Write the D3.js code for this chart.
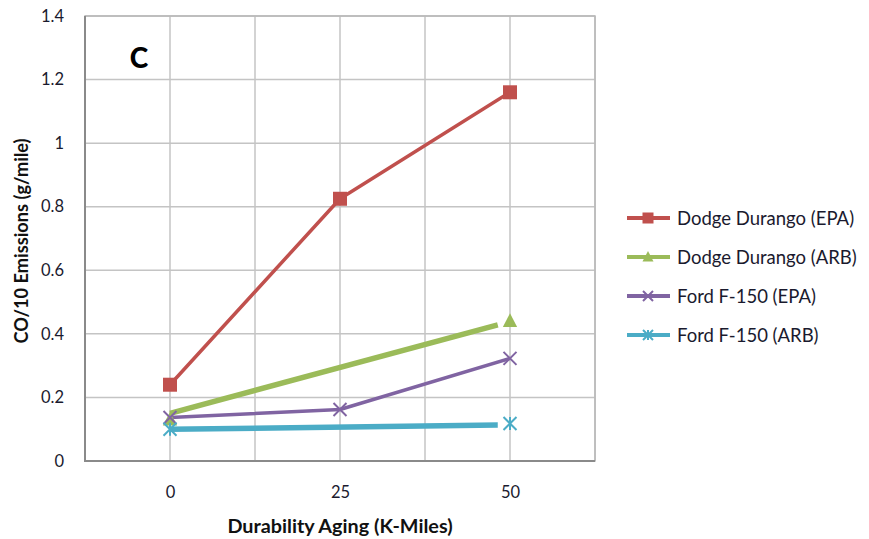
<!DOCTYPE html>
<html><head><meta charset="utf-8">
<script src="https://cdn.jsdelivr.net/npm/d3@7"></script>
<style>
html,body{margin:0;padding:0;background:#fff;}
svg{display:block;font-family:Lato,"Open Sans",sans-serif;}
</style></head>
<body><svg id="c" width="869" height="539"></svg>
<script>
const xTicks = [0, 25, 50];
const yTicks = [0, 0.2, 0.4, 0.6, 0.8, 1, 1.2, 1.4];
const seriesNames = ["Dodge Durango (EPA)", "Dodge Durango (ARB)", "Ford F-150 (EPA)", "Ford F-150 (ARB)"];
const seriesColors = ["#C0504D", "#9BBB59", "#8064A2", "#4BACC6"];
const seriesMarkers = ["square", "triangle", "x", "star"];
const seriesWidths = [3.5, 5.5, 3.5, 5.5];
// line points per series
const durangoEpaLine = [[0, 0.24], [25, 0.825], [50, 1.16]];
const durangoArbLine = [[0, 0.15], [48.2, 0.428]];
const fordEpaLine = [[0, 0.137], [25, 0.162], [50, 0.323]];
const fordArbLine = [[0, 0.10], [48.2, 0.113]];
// marker points per series
const durangoEpaMarks = [[0, 0.24], [25, 0.825], [50, 1.16]];
const durangoArbMarks = [[0, 0.13], [50, 0.44]];
const fordEpaMarks = [[0, 0.137], [25, 0.162], [50, 0.323]];
const fordArbMarks = [[0, 0.10], [50, 0.118]];
const lines = [durangoEpaLine, durangoArbLine, fordEpaLine, fordArbLine];
const marks = [durangoEpaMarks, durangoArbMarks, fordEpaMarks, fordArbMarks];
const xTitle = "Durability Aging (K-Miles)";
const yTitle = "CO/10 Emissions (g/mile)";
const panelLabel = "C";

const svg = d3.select("#c");
const L = 85, R = 595, T = 16, B = 461;
const x = d3.scaleLinear().domain([-12.5, 62.5]).range([L, R]);
const y = d3.scaleLinear().domain([0, 1.4]).range([B, T]);

// grid
const g = svg.append("g");
g.selectAll(".vg").data(d3.range(-12.5, 62.6, 12.5)).join("line")
  .attr("x1", d => x(d)).attr("x2", d => x(d)).attr("y1", T).attr("y2", B)
  .attr("stroke", "#c4c4c4").attr("stroke-width", 1.5);
g.selectAll(".hg").data(yTicks).join("line")
  .attr("x1", L).attr("x2", R).attr("y1", d => y(d)).attr("y2", d => y(d))
  .attr("stroke", "#c4c4c4").attr("stroke-width", 1.5);
g.append("rect").attr("x", L).attr("y", T).attr("width", R - L).attr("height", B - T)
  .attr("fill", "none").attr("stroke", "#b8b8b8").attr("stroke-width", 1.5);
g.append("line").attr("x1", L).attr("x2", L).attr("y1", T).attr("y2", B + 1).attr("stroke", "#8a8a8a").attr("stroke-width", 2);
g.append("line").attr("x1", L).attr("x2", R).attr("y1", B).attr("y2", B).attr("stroke", "#8a8a8a").attr("stroke-width", 2);

// axes labels via d3 axes
const ya = svg.append("g").attr("transform", `translate(${L},0)`)
  .call(d3.axisLeft(y).tickValues(yTicks).tickSize(0).tickPadding(21).tickFormat(d3.format("~g")));
ya.select(".domain").remove();
ya.selectAll("text").attr("font-size", 16.5).attr("fill", "#1a1a2e").attr("font-family", "Lato,'Open Sans',sans-serif");
const xa = svg.append("g").attr("transform", `translate(0,${B})`)
  .call(d3.axisBottom(x).tickValues(xTicks).tickSize(0).tickPadding(25));
xa.select(".domain").remove();
xa.selectAll("text").attr("font-size", 16.5).attr("fill", "#1a1a2e").attr("font-family", "Lato,'Open Sans',sans-serif");

svg.append("text").attr("x", x(25)).attr("y", 533).attr("text-anchor", "middle")
  .attr("font-size", 19.8).attr("font-weight", "bold").attr("fill", "#111").text(xTitle);
svg.append("text").attr("transform", `translate(28,241) rotate(-90)`)
  .attr("text-anchor", "middle").attr("font-size", 18.2).attr("font-weight", "bold").attr("fill", "#111").text(yTitle);
svg.append("text").attr("x", 139).attr("y", 68).attr("text-anchor", "middle")
  .attr("font-size", 28).attr("font-weight", "900").attr("fill", "#000").text(panelLabel);

function drawMarker(sel, type, color, cx, cy, s) {
  if (type === "square") {
    sel.append("rect").attr("x", cx - s / 2).attr("y", cy - s / 2).attr("width", s).attr("height", s).attr("fill", color);
  } else if (type === "triangle") {
    sel.append("path").attr("d", `M${cx},${cy - s * 0.6}L${cx + s * 0.55},${cy + s * 0.45}L${cx - s * 0.55},${cy + s * 0.45}Z`).attr("fill", color);
  } else if (type === "x") {
    const h = s * 0.5;
    sel.append("path").attr("d", `M${cx - h},${cy - h}L${cx + h},${cy + h}M${cx - h},${cy + h}L${cx + h},${cy - h}`)
      .attr("stroke", color).attr("stroke-width", 2).attr("fill", "none");
  } else {
    const h = s * 0.5;
    sel.append("path").attr("d", `M${cx - h},${cy - h}L${cx + h},${cy + h}M${cx - h},${cy + h}L${cx + h},${cy - h}M${cx},${cy - h}L${cx},${cy + h}`)
      .attr("stroke", color).attr("stroke-width", 2).attr("fill", "none");
  }
}

const lineGen = d3.line().x(d => x(d[0])).y(d => y(d[1]));
const plot = svg.append("g");
lines.forEach((pts, i) => {
  plot.append("path").datum(pts).attr("d", lineGen).attr("fill", "none")
    .attr("stroke", seriesColors[i]).attr("stroke-width", seriesWidths[i]).attr("stroke-linejoin", "round");
});
marks.forEach((pts, i) => {
  pts.forEach(p => drawMarker(plot, seriesMarkers[i], seriesColors[i], x(p[0]), y(p[1]), i === 0 ? 14 : 13));
});

// legend
const lg = svg.append("g");
seriesNames.forEach((n, i) => {
  const yy = 218 + i * 39;
  lg.append("line").attr("x1", 627).attr("x2", 670).attr("y1", yy).attr("y2", yy)
    .attr("stroke", seriesColors[i]).attr("stroke-width", 4);
  drawMarker(lg, seriesMarkers[i], seriesColors[i], 648, yy, i === 0 ? 11 : 10);
  lg.append("text").attr("x", 677).attr("y", yy + 6.5).attr("font-size", 18.5).attr("fill", "#1a1a2e").text(n);
});
</script></body></html>
